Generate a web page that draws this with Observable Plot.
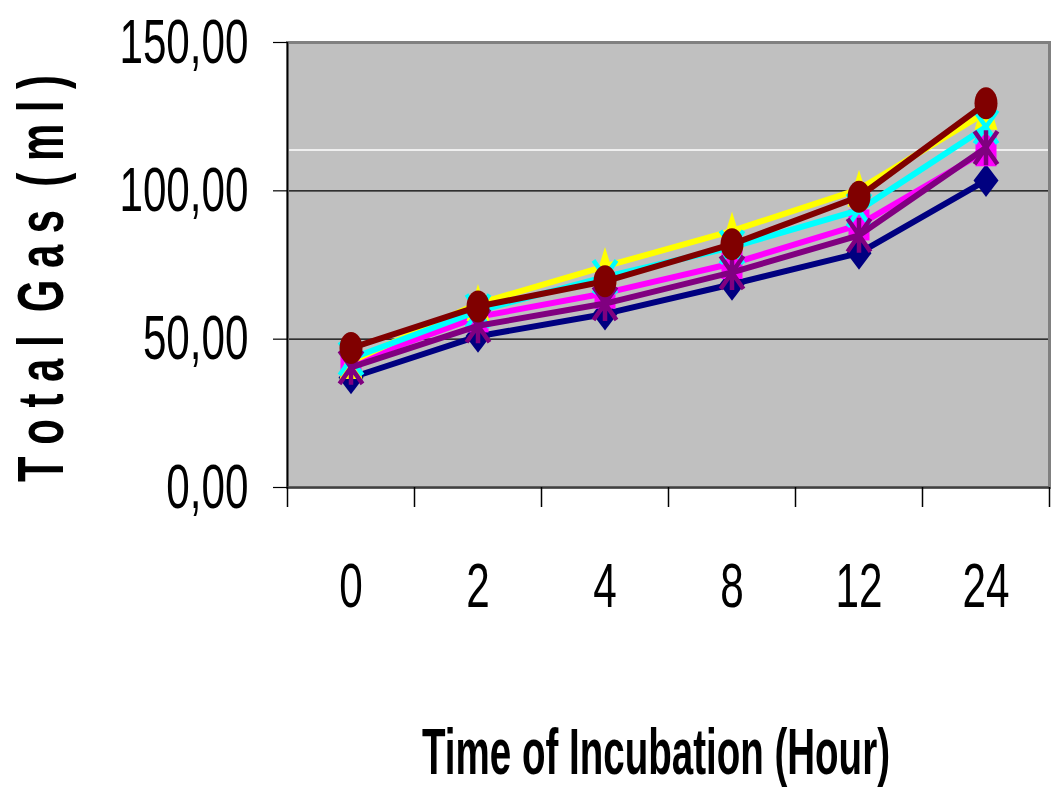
<!DOCTYPE html>
<html>
<head>
<meta charset="utf-8">
<script src="https://cdn.jsdelivr.net/npm/d3@7"></script>
<script src="https://cdn.jsdelivr.net/npm/@observablehq/plot@0.6"></script>
<style>
  html, body { margin: 0; padding: 0; background: #ffffff; }
  svg { display: block; }
</style>
</head>
<body>
<div id="chart"></div>
<script>
// ---- data ----
const categories = ["0", "2", "4", "8", "12", "24"];        // time of incubation (hour)
const seriesNames = ["Series1", "Series2", "Series3", "Series4", "Series5", "Series6"];
const series1 = [37.0, 51.0, 58.5, 68.5, 79.0, 103.5];    // navy, diamond
const series2 = [42.0, 57.5, 65.5, 75.5, 88.5, 113.5];    // magenta, square
const series3 = [42.5, 62.0, 74.5, 86.5, 100.5, 126.5];   // yellow, triangle
const series4 = [43.5, 59.5, 71.0, 81.0, 93.5, 121.5];    // cyan, x
const series5 = [40.5, 54.5, 62.0, 72.5, 85.0, 114.5];    // purple, asterisk
const series6 = [47.0, 61.0, 69.5, 82.0, 98.0, 129.5];    // maroon, circle
const yTicks = [0, 50, 100, 150];
const gridValues = [50, 100];
const whiteLineValue = [113.8];
const xTitle = "Time of Incubation (Hour)";
const yTitle = "T o t a l  G a s  ( m l )";

// ---- marker shapes (stretched, as in the reference) ----
const diamond = {draw(c) { c.moveTo(0, -16.5); c.lineTo(12.5, 0); c.lineTo(0, 16.5); c.lineTo(-12.5, 0); c.closePath(); }};
const square = {draw(c) { c.moveTo(-10.5, -15.5); c.lineTo(10.5, -15.5); c.lineTo(10.5, 15.5); c.lineTo(-10.5, 15.5); c.closePath(); }};
const triangle = {draw(c) { c.moveTo(0, -19.5); c.lineTo(11.5, 17.5); c.lineTo(-11.5, 17.5); c.closePath(); }};
const cross = {draw(c) { c.moveTo(-11.5, -16.5); c.lineTo(11.5, 16.5); c.moveTo(11.5, -16.5); c.lineTo(-11.5, 16.5); }};
const asterisk = {draw(c) { c.moveTo(-11.5, -16.5); c.lineTo(11.5, 16.5); c.moveTo(11.5, -16.5); c.lineTo(-11.5, 16.5); c.moveTo(0, -17.5); c.lineTo(0, 17.5); }};
const ellipse = {draw(c) {
  const rx = 11.5, ry = 16, kx = rx * 0.5523, ky = ry * 0.5523;
  c.moveTo(rx, 0);
  c.bezierCurveTo(rx, ky, kx, ry, 0, ry);
  c.bezierCurveTo(-kx, ry, -rx, ky, -rx, 0);
  c.bezierCurveTo(-rx, -ky, -kx, -ry, 0, -ry);
  c.bezierCurveTo(kx, -ry, rx, -ky, rx, 0);
  c.closePath();
}};

const seriesDefs = [
  {name: seriesNames[0], values: series1, color: "#000080", symbol: diamond, filled: true},
  {name: seriesNames[1], values: series2, color: "#FF00FF", symbol: square, filled: true},
  {name: seriesNames[2], values: series3, color: "#FFFF00", symbol: triangle, filled: true},
  {name: seriesNames[3], values: series4, color: "#00FFFF", symbol: cross, filled: false},
  {name: seriesNames[4], values: series5, color: "#800080", symbol: asterisk, filled: false},
  {name: seriesNames[5], values: series6, color: "#800000", symbol: ellipse, filled: true}
];

const idx = categories.map((_, i) => i);
const boundaries = categories.map((_, i) => i - 0.5).concat([categories.length - 0.5]);
const fmt = d => d.toFixed(2).replace(".", ",");

const seriesMarks = seriesDefs.flatMap(s => {
  const rows = s.values.map((v, i) => ({i, v, series: s.name}));
  return [
    Plot.line(rows, {x: "i", y: "v", stroke: s.color, strokeWidth: 6, strokeLinejoin: "round"}),
    Plot.dot(rows, s.filled
      ? {x: "i", y: "v", symbol: s.symbol, fill: s.color, stroke: "none"}
      : {x: "i", y: "v", symbol: s.symbol, fill: "none", stroke: s.color, strokeWidth: 4.5})
  ];
});

const chart = Plot.plot({
  width: 1051,
  height: 787,
  marginLeft: 287,
  marginRight: 2,
  marginTop: 42,
  marginBottom: 300,
  style: {fontFamily: "'Liberation Sans', Arial, sans-serif", fontSize: "63px", background: "#ffffff", color: "#000000", overflow: "visible"},
  x: {domain: [-0.5, categories.length - 0.5]},
  y: {domain: [0, 150]},
  marks: [
    Plot.frame({fill: "#C0C0C0"}),
    Plot.ruleY(whiteLineValue, {stroke: "#ffffff", strokeWidth: 1.5}),
    Plot.ruleY(gridValues, {stroke: "#000000", strokeWidth: 1.2}),
    Plot.frame({stroke: "#808080", strokeWidth: 3}),
    Plot.ruleX([boundaries[0]], {stroke: "#000000", strokeWidth: 1.5}),
    Plot.ruleY([yTicks[0]], {stroke: "#404040", strokeWidth: 2}),
    Plot.axisY({ticks: yTicks, tickSize: 14, tickPadding: 25, tickFormat: fmt, label: null, strokeWidth: 1.2}),
    Plot.axisX({ticks: idx, tickSize: 0, tickPadding: 75, tickFormat: i => categories[i], label: null}),
    Plot.axisX({ticks: boundaries, tickSize: 20, tickFormat: () => "", label: null, strokeWidth: 1.5}),
    ...seriesMarks
  ]
});

document.getElementById("chart").appendChild(chart);

// condensed tick labels (narrow font look of the reference)
const svg = d3.select(chart.tagName.toLowerCase() === "svg" ? chart : chart.querySelector("svg"));
svg.selectAll('g[aria-label="y-axis tick label"] text, g[aria-label="x-axis tick label"] text').each(function() {
  const len = this.getComputedTextLength();
  if (len > 0) {
    this.setAttribute("textLength", (len * 0.67).toFixed(1));
    this.setAttribute("lengthAdjust", "spacingAndGlyphs");
  }
});

// axis titles (horizontally condensed by a scale transform)
function addTitle(text, tx, ty, rotate, targetWidth) {
  const g = svg.append("g");
  const t = g.append("text")
    .attr("text-anchor", "middle")
    .attr("font-family", "'Liberation Sans', Arial, sans-serif")
    .attr("font-weight", "bold")
    .attr("font-size", 64)
    .attr("fill", "#000")
    .text(text);
  const w = t.node().getComputedTextLength();
  const sx = w > 0 ? targetWidth / w : 1;
  g.attr("transform", `translate(${tx},${ty})${rotate ? " rotate(-90)" : ""} scale(${sx.toFixed(4)},1)`);
}
addTitle(xTitle, 656, 774, false, 468);
addTitle(yTitle, 63, 278.5, true, 407);
</script>
</body>
</html>
